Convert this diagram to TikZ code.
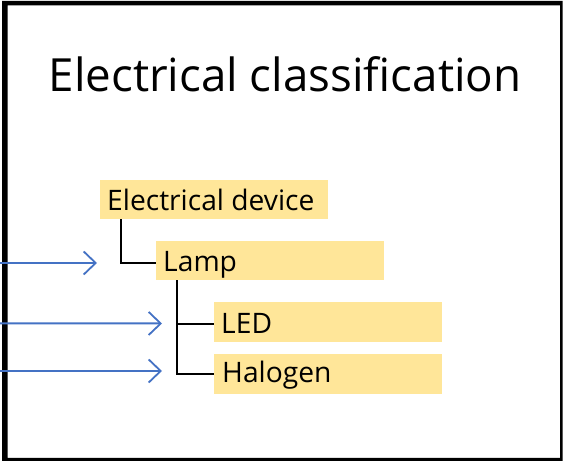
\documentclass[tikz,border=0pt]{standalone}
\usepackage{fontspec}
\setmainfont{Open Sans}
\usetikzlibrary{arrows.meta}
\definecolor{boxfill}{HTML}{FFE699}
\definecolor{arrblue}{HTML}{4472C4}
\tikzset{
  ybox/.style={fill=boxfill, draw=none, inner sep=0pt, minimum width=228pt, minimum height=39pt, anchor=north west},
  ytext/.style={anchor=base west, inner sep=0pt, font=\fontsize{28.2}{32}\selectfont},
  tree/.style={draw=black, line width=2pt},
  inarrow/.style={draw=arrblue, line width=2pt, -{Straight Barb[length=12pt,width=23pt,line width=1.8pt]}},
}
\begin{document}
\begin{tikzpicture}[x=1pt,y=-1pt]
\useasboundingbox (0,0) rectangle (563,462);
% frame
\fill[black, even odd rule] (2,1) rectangle (562.5,461) (7.5,5.5) rectangle (560,458);
% title
\node[anchor=base west, inner sep=0pt, font=\fontsize{45.7}{52}\selectfont] (title) at (48.5,91.7) {Electrical classification};
% boxes
\node[ybox] (ed) at (100,180) {};
\node[ybox] (lamp) at (156,241) {};
\node[ybox, minimum height=40pt] (led) at (214,302) {};
\node[ybox, minimum height=40pt] (hal) at (214,354) {};
% texts
\node[ytext] (edt) at (107,210.7) {Electrical device};
\node[ytext] (lampt) at (163,271.7) {Lamp};
\node[ytext] (ledt) at (221,333.3) {LED};
\node[ytext] (halt) at (222,382.7) {Halogen};
% tree connectors
\draw[tree] ([xshift=21pt]ed.south west) |- ([yshift=-2pt]lamp.west);
\draw[tree] ([xshift=21pt]lamp.south west) |- ([yshift=-1.5pt]led.west);
\draw[tree] ([xshift=21pt]lamp.south west) |- ([yshift=0.5pt]hal.west);
% incoming arrows
\coordinate (s1) at (0,263);
\coordinate (t1) at (97,263);
\coordinate (s2) at (0,323.3);
\coordinate (t2) at (162,323.5);
\coordinate (s3) at (0,371);
\coordinate (t3) at (162,371);
\draw[inarrow] (s1) -- (t1);
\draw[inarrow] (s2) -- (t2);
\draw[inarrow] (s3) -- (t3);
\end{tikzpicture}
\end{document}
